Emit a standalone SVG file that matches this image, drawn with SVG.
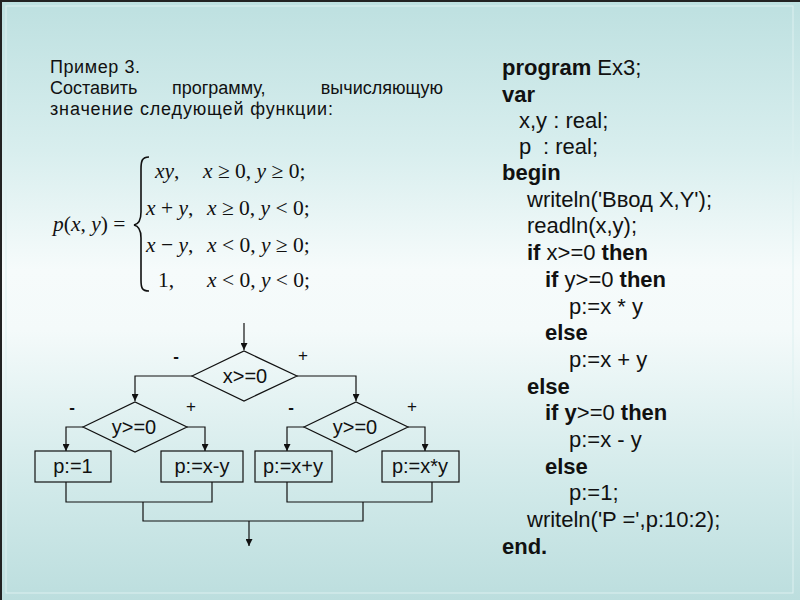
<svg xmlns="http://www.w3.org/2000/svg" width="800" height="600" viewBox="0 0 800 600">
<defs>
<linearGradient id="bg" x1="0" y1="0" x2="0" y2="1">
<stop offset="0" stop-color="#BDE0E0"/>
<stop offset="0.25" stop-color="#D8EEEE"/>
<stop offset="0.45" stop-color="#F6FBFB"/>
<stop offset="0.55" stop-color="#F4FAFA"/>
<stop offset="0.8" stop-color="#D2EAEA"/>
<stop offset="1" stop-color="#BCDEDE"/>
</linearGradient>
<marker id="arr" viewBox="0 0 10 10" refX="10" refY="5" markerWidth="7" markerHeight="7" markerUnits="userSpaceOnUse" orient="auto">
<path d="M0,0 L10,5 L0,10 z" fill="#111"/>
</marker>
<style>
.t{font-family:"Liberation Sans",Arial,sans-serif;fill:#111}
.intro{font-size:18px}
.code{font-size:22px}
.b{font-weight:bold}
.m{font-family:"Liberation Serif","Times New Roman",serif;font-size:21.5px;fill:#111}
.i{font-style:italic}
.fc{font-family:"Liberation Sans",Arial,sans-serif;font-size:20px;fill:#111;text-anchor:middle}
.lbl{font-family:"Liberation Sans",Arial,sans-serif;font-size:17px;fill:#111;text-anchor:middle}
.shape{fill:none;stroke:#111;stroke-width:1.2}
.conn{fill:none;stroke:#111;stroke-width:1.2}
</style>
</defs>
<rect x="0" y="0" width="800" height="600" fill="url(#bg)"/>
<rect x="6" y="6" width="787" height="587" fill="none" stroke="#DDF0F0" stroke-width="1"/>
<path d="M1,600 V1 H800" fill="none" stroke="#222" stroke-width="2"/>

<g id="intro">
<text class="t intro" x="50" y="73" textLength="90" lengthAdjust="spacing">Пример 3.</text>
<text class="t intro" x="50" y="94">Составить</text>
<text class="t intro" x="172" y="94">программу,</text>
<text class="t intro" x="443" y="94" text-anchor="end">вычисляющую</text>
<text class="t intro" x="50" y="115" textLength="283" lengthAdjust="spacing">значение следующей функции:</text>
</g>

<g id="formula">
<text class="m" x="53" y="231"><tspan class="i">p</tspan>(<tspan class="i">x</tspan>, <tspan class="i">y</tspan>) =</text>
<path d="M149,157 C142,157 141,161 141,169 L141,212 C141,220 139,224 134,225 C139,226 141,230 141,238 L141,280 C141,288 142,291 149,291" fill="none" stroke="#111" stroke-width="1.6"/>
<text class="m" x="155" y="178"><tspan class="i">xy</tspan>,</text>
<text class="m" x="203" y="178"><tspan class="i">x</tspan> ≥ 0, <tspan class="i">y</tspan> ≥ 0;</text>
<text class="m" x="146" y="215"><tspan class="i">x</tspan> + <tspan class="i">y</tspan>,</text>
<text class="m" x="207" y="215"><tspan class="i">x</tspan> ≥ 0, <tspan class="i">y</tspan> &lt; 0;</text>
<text class="m" x="146" y="252"><tspan class="i">x</tspan> − <tspan class="i">y</tspan>,</text>
<text class="m" x="207" y="252"><tspan class="i">x</tspan> &lt; 0, <tspan class="i">y</tspan> ≥ 0;</text>
<text class="m" x="158" y="287">1,</text>
<text class="m" x="207" y="287"><tspan class="i">x</tspan> &lt; 0, <tspan class="i">y</tspan> &lt; 0;</text>
</g>

<g id="connectors">
<path class="conn" d="M244,323 V350" marker-end="url(#arr)"/>
<path class="conn" d="M192,376 H135 V401" marker-end="url(#arr)"/>
<path class="conn" d="M297,376 H356 V401" marker-end="url(#arr)"/>
<path class="conn" d="M83,427 H66 V451" marker-end="url(#arr)"/>
<path class="conn" d="M187,427 H205 V451" marker-end="url(#arr)"/>
<path class="conn" d="M304,427 H287 V451" marker-end="url(#arr)"/>
<path class="conn" d="M408,427 H425 V451" marker-end="url(#arr)"/>
<path class="conn" d="M66,482 V502 H212 V482"/>
<path class="conn" d="M287,482 V502 H432 V482"/>
<path class="conn" d="M143,502 V521 H363 V502"/>
<path class="conn" d="M249,521 V546" marker-end="url(#arr)"/>
<text class="lbl b" x="176" y="362">-</text>
<text class="lbl" x="303" y="361">+</text>
<text class="lbl b" x="72" y="413">-</text>
<text class="lbl" x="191" y="412">+</text>
<text class="lbl b" x="291" y="413">-</text>
<text class="lbl" x="412" y="412">+</text>
</g>

<g id="d_x">
<polygon class="shape" points="192,376 244,351 297,376 244,401"/>
<text class="fc" x="245" y="383">x&gt;=0</text>
</g>
<g id="d_y_left">
<polygon class="shape" points="83,427 135,402 187,427 135,452"/>
<text class="fc" x="134" y="434">y&gt;=0</text>
</g>
<g id="d_y_right">
<polygon class="shape" points="304,427 356,402 408,427 356,452"/>
<text class="fc" x="355" y="434">y&gt;=0</text>
</g>
<g id="b_p1">
<rect class="shape" x="35" y="451" width="76" height="31"/>
<text class="fc" x="73" y="473">p:=1</text>
</g>
<g id="b_pxmy">
<rect class="shape" x="161" y="451" width="82" height="31"/>
<text class="fc" x="202" y="473">p:=x-y</text>
</g>
<g id="b_pxpy">
<rect class="shape" x="255" y="451" width="77" height="31"/>
<text class="fc" x="293" y="473">p:=x+y</text>
</g>
<g id="b_pxty">
<rect class="shape" x="382" y="451" width="77" height="31"/>
<text class="fc" x="420" y="473">p:=x*y</text>
</g>

<g id="code">
<text class="t code" x="502" y="75"><tspan class="b">program</tspan> Ex3;</text>
<text class="t code b" x="502" y="102">var</text>
<text class="t code" x="519" y="128">x,y : real;</text>
<text class="t code" x="519" y="154">p</text>
<text class="t code" x="543" y="154">: real;</text>
<text class="t code b" x="502" y="180">begin</text>
<text class="t code" x="527" y="207">writeln('Ввод X,Y');</text>
<text class="t code" x="527" y="233">readln(x,y);</text>
<text class="t code" x="527" y="260"><tspan class="b">if</tspan> x&gt;=0 <tspan class="b">then</tspan></text>
<text class="t code" x="545" y="287"><tspan class="b">if</tspan> y&gt;=0 <tspan class="b">then</tspan></text>
<text class="t code" x="569" y="314">p:=x * y</text>
<text class="t code b" x="545" y="340">else</text>
<text class="t code" x="569" y="367">p:=x + y</text>
<text class="t code b" x="527" y="394">else</text>
<text class="t code" x="545" y="420"><tspan class="b">if y</tspan>&gt;=0 <tspan class="b">then</tspan></text>
<text class="t code" x="569" y="447">p:=x - y</text>
<text class="t code b" x="545" y="474">else</text>
<text class="t code" x="569" y="500">p:=1;</text>
<text class="t code" x="527" y="527">writeln('P =',p:10:2);</text>
<text class="t code b" x="502" y="554">end.</text>
</g>
</svg>
